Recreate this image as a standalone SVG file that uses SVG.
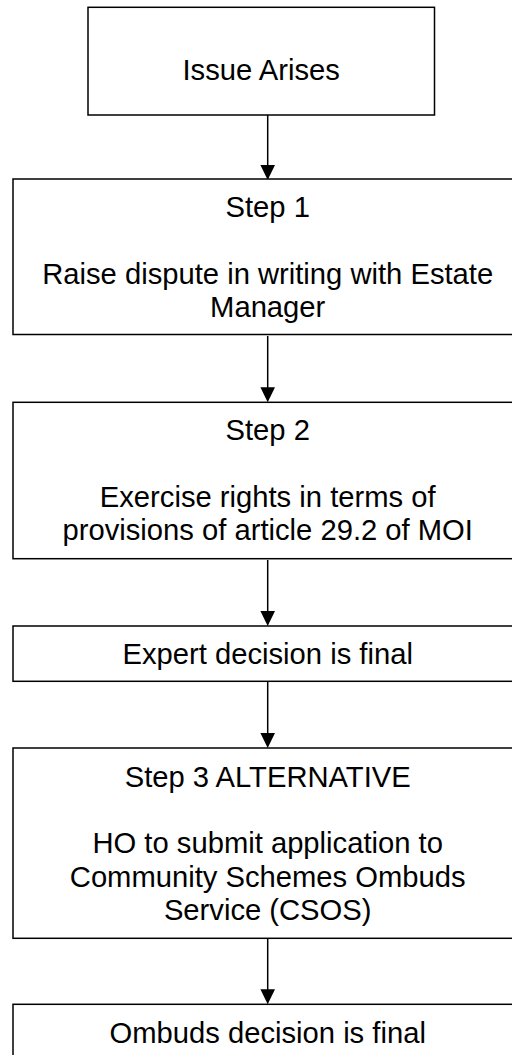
<svg xmlns="http://www.w3.org/2000/svg" width="512" height="1055" viewBox="0 0 512 1055">
<style>
.box{fill:#fff;stroke:#000;stroke-width:1.5}
.t{font-family:"Liberation Sans",Arial,sans-serif;font-size:29.2px;fill:#000;text-anchor:middle}
.c{stroke:#000;stroke-width:1.5;fill:none}
.h{fill:#000}
</style>
<rect width="512" height="1055" fill="#fff"/>
<g id="connectors">
<line class="c" x1="267.7" y1="115" x2="267.7" y2="166"/><polygon class="h" points="260.4,165 275,165 267.7,180"/>
<line class="c" x1="267.7" y1="336" x2="267.7" y2="388"/><polygon class="h" points="260.4,387.3 275,387.3 267.7,402.3"/>
<line class="c" x1="267.7" y1="560" x2="267.7" y2="612"/><polygon class="h" points="260.4,611 275,611 267.7,626"/>
<line class="c" x1="267.7" y1="682" x2="267.7" y2="734"/><polygon class="h" points="260.4,733 275,733 267.7,748"/>
<line class="c" x1="267.7" y1="939" x2="267.7" y2="990"/><polygon class="h" points="260.4,989.3 275,989.3 267.7,1004.3"/>
</g>
<g id="issue">
<rect class="box" x="88" y="7.3" width="346.5" height="107.7"/>
<text class="t" x="261.2" y="80">Issue Arises</text>
</g>
<g id="step1">
<rect class="box" x="13" y="179" width="509.4" height="155.5"/>
<text class="t" x="267.7" y="216.7">Step 1</text>
<text class="t" x="267.7" y="284">Raise dispute in writing with Estate</text>
<text class="t" x="267.7" y="317">Manager</text>
</g>
<g id="step2">
<rect class="box" x="13" y="402.3" width="509.4" height="156.4"/>
<text class="t" x="267.7" y="440">Step 2</text>
<text class="t" x="267.7" y="506.7">Exercise rights in terms of</text>
<text class="t" x="267.7" y="540">provisions of article 29.2 of MOI</text>
</g>
<g id="expert">
<rect class="box" x="13" y="626" width="509.4" height="55.3"/>
<text class="t" x="267.7" y="664">Expert decision is final</text>
</g>
<g id="step3">
<rect class="box" x="13" y="748" width="509.4" height="190.3"/>
<text class="t" x="267.7" y="786.7">Step 3 ALTERNATIVE</text>
<text class="t" x="267.7" y="853.3">HO to submit application to</text>
<text class="t" x="267.7" y="886.7">Community Schemes Ombuds</text>
<text class="t" x="267.7" y="920">Service (CSOS)</text>
</g>
<g id="ombuds">
<rect class="box" x="13" y="1004.3" width="509.4" height="70"/>
<text class="t" x="267.7" y="1042.7">Ombuds decision is final</text>
</g>
</svg>
